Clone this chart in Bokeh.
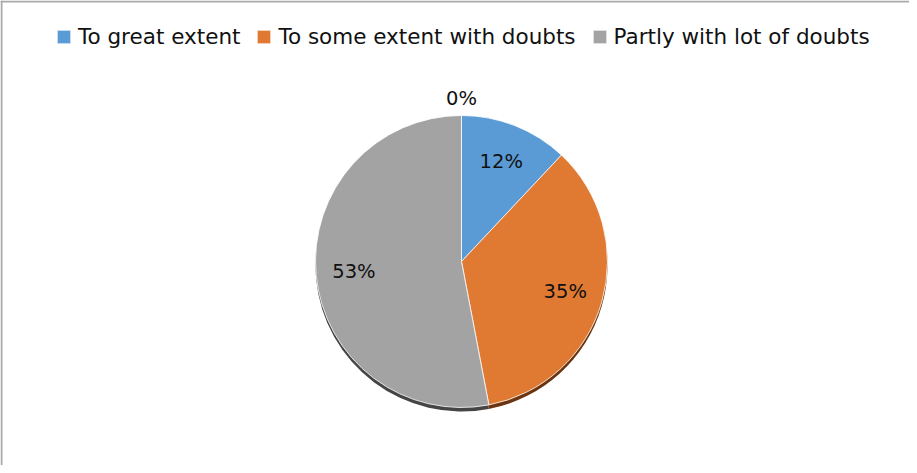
import math
from bokeh.plotting import figure
from bokeh.models import Range1d, Legend, LegendItem, ColumnDataSource, Span
from bokeh.core.properties import value
from bokeh.embed import file_html
from bokeh.resources import INLINE

# ---- data ----
categories = ["To great extent", "To some extent with doubts", "Partly with lot of doubts", ""]
percent = [12, 35, 53, 0]
colors = ["#5B9BD5", "#E07A32", "#A3A3A3", "#FFC000"]
shadow_colors = ["#2f5a80", "#6a3510", "#454545", "#6a5000"]
legend_count = 3

W, H = 909, 465
p = figure(width=W, height=H, x_range=Range1d(0, W), y_range=Range1d(0, H),
           output_backend="svg", toolbar_location=None, min_border=0,
           x_axis_location=None, y_axis_location=None)
p.grid.visible = False
p.outline_line_color = None
p.background_fill_color = "white"
p.border_fill_color = "white"

# chart border (top and left visible)
p.add_layout(Span(location=H - 1, dimension="width", line_color="#A9A9A9", line_width=2))
p.add_layout(Span(location=1, dimension="height", line_color="#A9A9A9", line_width=2))

cx, cy, r = 461, 204, 146
total = float(sum(percent))
starts, ends, mids = [], [], []
acc = 0.0
for v in percent:
    f0 = acc / total
    acc += v
    f1 = acc / total
    starts.append(math.pi / 2 - 2 * math.pi * f0)
    ends.append(math.pi / 2 - 2 * math.pi * f1)
    mids.append(math.pi / 2 - 2 * math.pi * (f0 + f1) / 2)

idx = [i for i, v in enumerate(percent) if v > 0]
src = ColumnDataSource(dict(
    start=[starts[i] for i in idx], end=[ends[i] for i in idx],
    color=[colors[i] for i in idx], shadow=[shadow_colors[i] for i in idx],
    x=[cx] * len(idx), y=[cy] * len(idx), ys=[cy - 4] * len(idx)))

p.wedge(x="x", y="ys", radius=r, start_angle="start", end_angle="end",
        direction="clock", fill_color="shadow", line_color=None, source=src)
wr = p.wedge(x="x", y="y", radius=r, start_angle="start", end_angle="end",
             direction="clock", fill_color="color", line_color="white",
             line_width=0.8, source=src)

# data labels
lx, ly, lt = [], [], []
for i, v in enumerate(percent):
    rl = 0.74 * r if v > 0 else r + 17
    lx.append(cx + rl * math.cos(mids[i]))
    ly.append(cy + rl * math.sin(mids[i]))
    lt.append(f"{v}%")
p.text(x=lx, y=ly, text=lt, text_align="center", text_baseline="middle",
       text_font=value("DejaVu Sans"), text_font_size="19.5px", text_color="#111111")

items = [LegendItem(label=categories[i], renderers=[wr], index=i) for i in range(legend_count)]
legend = Legend(items=items, orientation="horizontal", location=(55, 416),
                glyph_width=17, glyph_height=17, label_standoff=6, spacing=15,
                padding=0, margin=0, label_height=24,
                label_text_font="DejaVu Sans", label_text_font_size="21.5px",
                label_text_color="#111111", border_line_color=None,
                background_fill_alpha=0)
p.add_layout(legend, "center")

open("out.html", "w").write(file_html(p, INLINE))
